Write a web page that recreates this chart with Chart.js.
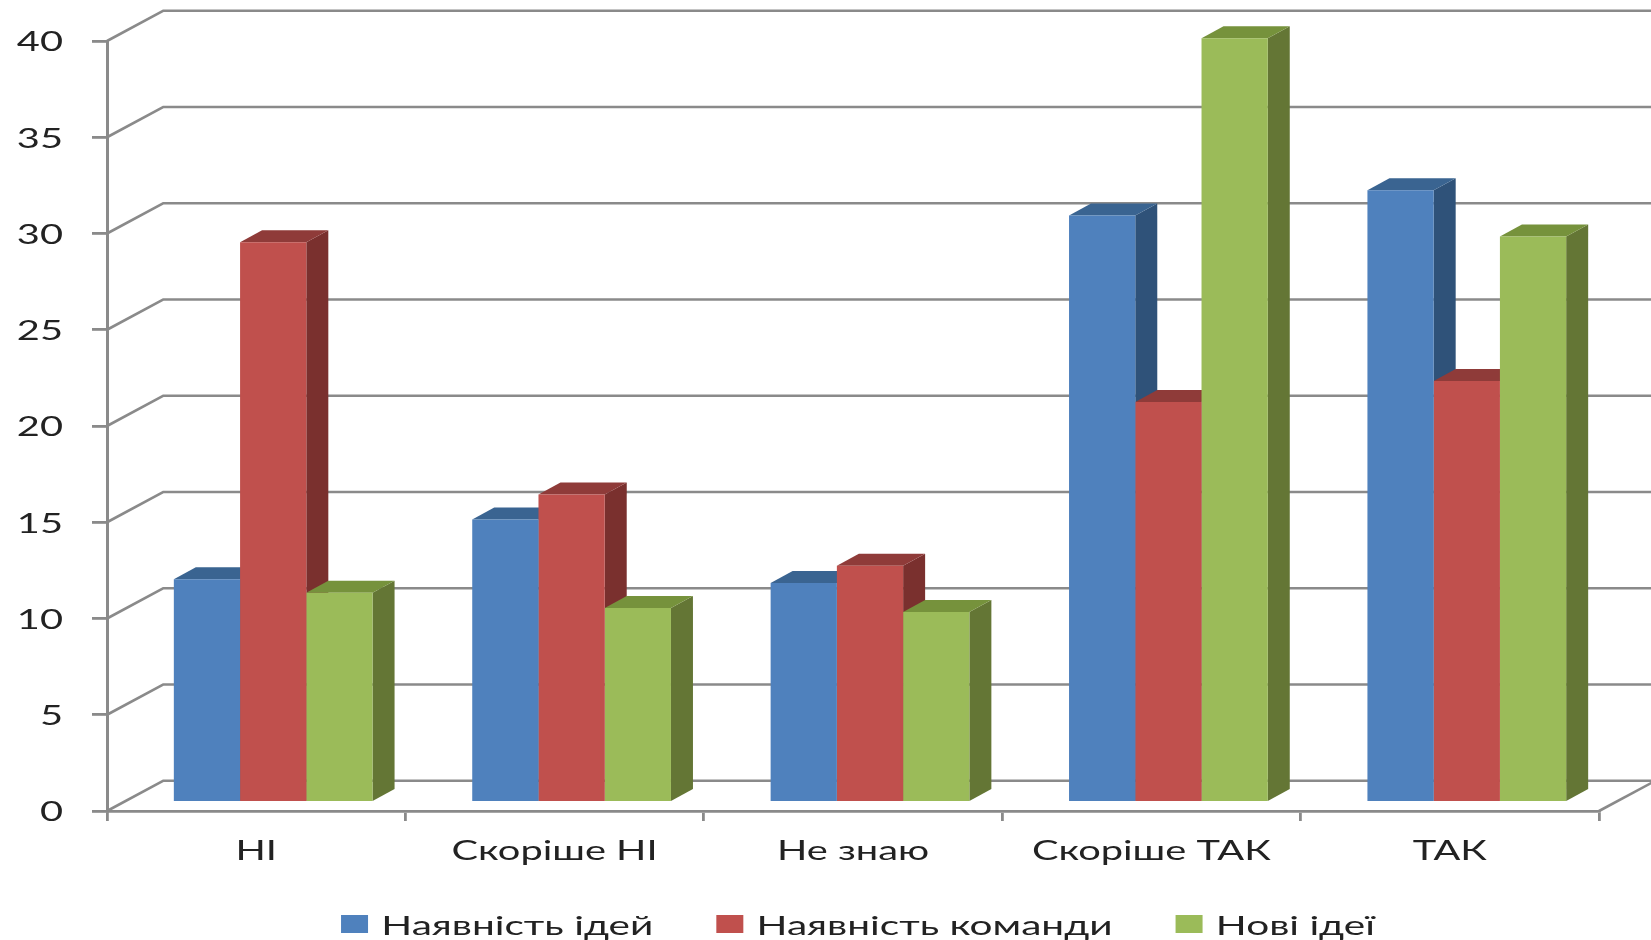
<!DOCTYPE html>
<html><head><meta charset="utf-8">
<style>html,body{margin:0;padding:0;background:#fff;overflow:hidden}canvas{display:block;filter:blur(0.7px)}</style>
<script src="https://cdn.jsdelivr.net/npm/chart.js@4"></script>
</head><body><canvas id="c" width="1651" height="940"></canvas>
<script>
const categories = ['НІ','Скоріше НІ','Не знаю','Скоріше ТАК','ТАК'];
const seriesNames = ['Наявність ідей','Наявність команди','Нові ідеї'];
const ideas = [11.6,14.7,11.4,30.5,31.8];
const team = [29.1,16.0,12.3,20.8,21.9];
const newIdeas = [10.9,10.1,9.9,39.7,29.4];
const frontColors = ['#4f81bd','#c0504d','#9bbb59'];
const sideColors = ['#2f5279','#7a302e','#647635'];
const topColors = ['#3a6491','#8f3b39','#76923c'];
const axisColor = '#8a8a8a';
const textColor = '#222';
const STRETCH = 1.53;
const wall = {dx:56.5, dy:-30.3};
const plane = {dx:17, dy:-8.5};
const depth = {dx:22, dy:-12};
const fontSize = 26;
const legendFontSize = 26.5;
const plotTop = 41;

const canvas = document.getElementById('c');
const ctx = canvas.getContext('2d');
const rawFill = ctx.fillText.bind(ctx), rawMeasure = ctx.measureText.bind(ctx);
ctx.fillText = function(t,x,y,m){ctx.save();ctx.translate(x,y+2);ctx.scale(STRETCH,1);rawFill(t,0,0);ctx.restore();};
ctx.measureText = function(t){const r=rawMeasure(t);return {width:r.width*STRETCH,actualBoundingBoxAscent:r.actualBoundingBoxAscent,actualBoundingBoxDescent:r.actualBoundingBoxDescent};};

function poly(c,pts,fill){c.beginPath();pts.forEach((p,i)=>i?c.lineTo(p[0],p[1]):c.moveTo(p[0],p[1]));c.closePath();c.fillStyle=fill;c.fill();}

const bars3d = {
  id:'bars3d',
  afterLayout(chart){
    const l=chart.legend;
    l.left+=117;
    l.top=924-l.options.labels.padding-legendFontSize/2;
    const y=chart.scales.y,a=chart.chartArea;
    y.top=plotTop;y.height=y.bottom-plotTop;y.configure();
    a.top=plotTop;a.height=a.bottom-plotTop;
  },
  beforeDatasetsDraw(chart){
    const c=chart.ctx,{y}=chart.scales,a=chart.chartArea;
    c.save();c.strokeStyle=axisColor;c.lineWidth=2.6;c.lineJoin='round';
    y.ticks.forEach(t=>{
      const py=y.getPixelForValue(t.value);
      c.beginPath();c.moveTo(a.left,py);c.lineTo(a.left+wall.dx,py+wall.dy);c.lineTo(chart.width+2,py+wall.dy);c.stroke();
    });
    c.beginPath();c.moveTo(a.right,a.bottom);c.lineTo(a.right+wall.dx,a.bottom+wall.dy);c.stroke();
    c.restore();
    c.save();c.translate(plane.dx,plane.dy);
    chart.data.datasets.forEach((d,i)=>{
      chart.getDatasetMeta(i).data.forEach(b=>{
        const {x,y:top,base,width}=b.getProps(['x','y','base','width'],true);
        const l=x-width/2,r=x+width/2;
        poly(c,[[r,top],[r+depth.dx,top+depth.dy],[r+depth.dx,base+depth.dy],[r,base]],sideColors[i]);
        poly(c,[[l,top],[l+depth.dx,top+depth.dy],[r+depth.dx,top+depth.dy],[r,top]],topColors[i]);
      });
    });
    c.restore();
  },
  beforeDatasetDraw(chart){const c=chart.ctx;c.save();c.translate(plane.dx,plane.dy);},
  afterDatasetDraw(chart){chart.ctx.restore();}
};

new Chart(ctx,{
  type:'bar',
  data:{labels:categories,datasets:[
    {label:seriesNames[0],data:ideas,backgroundColor:frontColors[0],clip:false},
    {label:seriesNames[1],data:team,backgroundColor:frontColors[1],clip:false},
    {label:seriesNames[2],data:newIdeas,backgroundColor:frontColors[2],clip:false}
  ]},
  plugins:[bars3d],
  options:{
    responsive:false,animation:false,
    events:[],
    layout:{padding:{top:35,right:52,left:0,bottom:0}},
    datasets:{bar:{categoryPercentage:0.666,barPercentage:1,borderWidth:0}},
    plugins:{
      tooltip:{enabled:false},
      legend:{position:'bottom',maxHeight:1,labels:{
        font:{family:'Lato',size:legendFontSize},color:textColor,boxWidth:27,boxHeight:18,padding:63
      }}
    },
    scales:{
      x:{
        afterFit(s){s.height=128;},
        border:{color:axisColor,width:2.8},
        grid:{drawOnChartArea:false,color:axisColor,lineWidth:2.8,tickLength:10},
        ticks:{font:{family:'Lato',size:fontSize},color:textColor,padding:13,maxRotation:0,autoSkip:false}
      },
      y:{
        min:0,max:40,
        afterFit(s){s.width=107;},
        border:{color:axisColor,width:3},
        grid:{drawOnChartArea:false,color:axisColor,lineWidth:2.8,tickLength:15},
        ticks:{stepSize:5,font:{family:'Lato',size:fontSize},color:textColor,padding:29}
      }
    }
  }
});
</script></body></html>
